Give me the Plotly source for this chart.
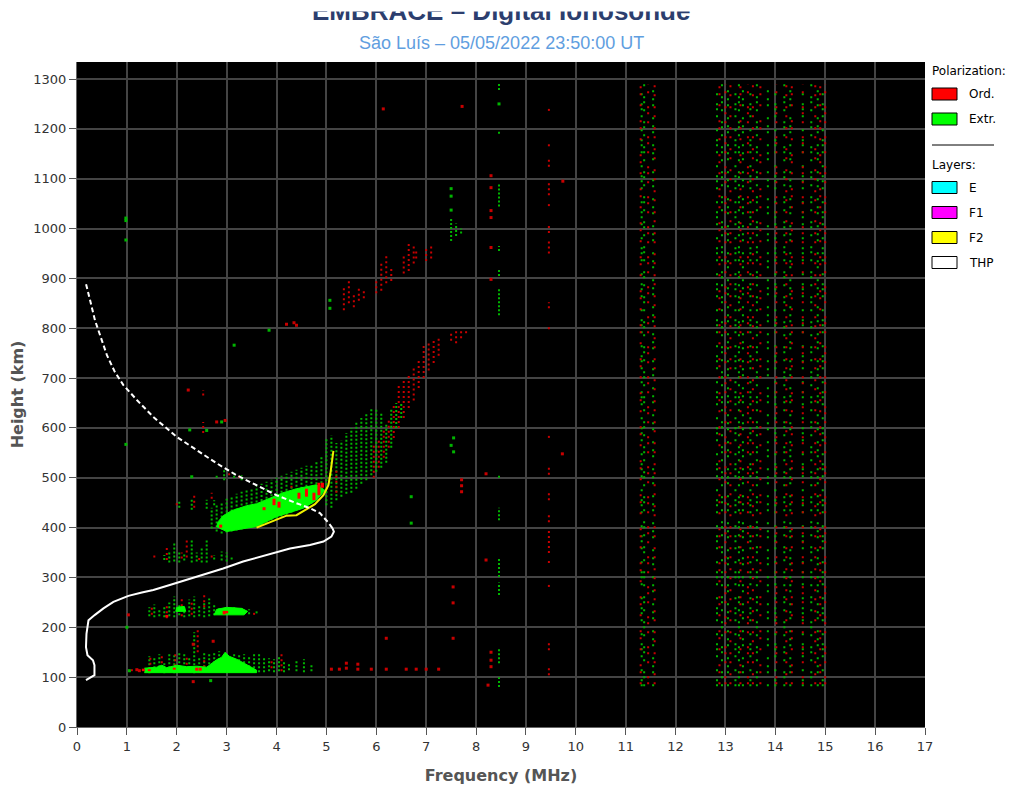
import plotly.graph_objects as go

# ---------------- data ----------------
# echo columns: frequency (MHz), bottom height (km), top height (km)

# extraordinary (green) echoes, sparse dots
e_ext_f = [1.05, 1.45, 1.55, 1.65, 1.75, 1.85, 1.95, 2.05, 2.15, 2.25, 2.35, 2.45, 2.55, 2.65, 2.75,
           2.85, 3.15, 3.25, 3.35, 3.45, 3.55, 3.65, 3.75, 3.85, 3.95, 4.05, 4.15, 4.25, 4.4, 4.55, 4.7]
e_ext_lo = [110, 108, 110, 112, 108, 110, 108, 112, 110, 110, 108, 110, 112, 110, 112,
            118, 118, 116, 112, 112, 110, 110, 110, 112, 110, 112, 110, 114, 112, 110, 112]
e_ext_hi = [118, 142, 138, 146, 132, 150, 146, 150, 148, 140, 190, 142, 148, 146, 150,
            152, 150, 148, 146, 140, 150, 148, 140, 138, 136, 144, 132, 130, 134, 136, 128]

es_ext_f = [1.45, 1.55, 1.65, 1.75, 1.85, 1.95, 2.05, 2.15, 2.25, 2.35, 2.45, 2.55, 2.65, 2.75,
            2.85, 3.0, 3.15, 3.3, 3.45, 3.6]
es_ext_lo = [222, 220, 222, 220, 222, 220, 224, 220, 222, 220, 222, 220, 222, 224, 226, 230, 228, 226, 226, 228]
es_ext_hi = [240, 246, 236, 244, 250, 262, 248, 244, 256, 262, 246, 252, 258, 246, 240, 236, 240, 242, 236, 232]

e2_ext_f = [1.75, 1.85, 1.95, 2.05, 2.15, 2.3, 2.4, 2.5, 2.6, 2.75, 2.9, 3.0, 3.1,
            2.05, 2.3, 2.6, 2.75, 2.8, 2.95, 3.15, 3.3]
e2_ext_lo = [335, 330, 332, 330, 334, 330, 332, 330, 330, 336, 334, 332, 336,
             440, 436, 438, 445, 500, 495, 500, 495]
e2_ext_hi = [345, 350, 368, 352, 346, 378, 350, 360, 376, 345, 352, 350, 342,
             452, 460, 456, 455, 508, 515, 510, 505]

f_ext_f = [2.7, 2.8, 2.9, 3.0, 3.1, 3.2, 3.3, 3.4, 3.5, 3.6, 3.7, 3.8, 3.9, 4.0, 4.1, 4.2, 4.3, 4.4,
           4.5, 4.6, 4.7, 4.8, 4.9, 5.0, 5.1, 5.2, 5.3, 5.4, 5.5, 5.6, 5.7, 5.8, 5.9, 6.0, 6.1, 6.2,
           6.3, 6.4, 6.5, 7.5, 7.6, 7.7]
f_ext_lo = [398, 392, 388, 390, 392, 394, 396, 398, 400, 402, 405, 410, 415, 418, 422, 426, 430, 434,
            438, 442, 448, 455, 465, 445, 440, 455, 462, 468, 470, 478, 488, 495, 505, 512, 520, 530,
            560, 600, 620, 975, 985, 990]
f_ext_hi = [440, 448, 452, 458, 462, 468, 472, 476, 480, 484, 488, 492, 496, 500, 504, 508, 512, 516,
            520, 524, 528, 535, 545, 580, 585, 570, 575, 590, 600, 612, 620, 628, 640, 640, 630, 610,
            640, 650, 650, 1020, 1010, 1000]

col_ext_f = [8.46, 8.46, 8.46, 8.46, 8.46, 8.46, 8.46, 8.46, 8.46, 8.46, 8.46, 8.46]
col_ext_lo = [1278, 1190, 1044, 955, 905, 826, 500, 415, 301, 265, 128, 80]
col_ext_hi = [1290, 1198, 1091, 965, 920, 878, 506, 440, 341, 290, 160, 100]

# ordinary (red) echoes, sparse dots
e_ord_f = [1.1, 1.47, 1.7, 1.97, 2.2, 2.42, 2.55, 3.9, 4.1,
           1.5, 1.8, 2.1, 2.3, 2.55, 3.55,
           1.55, 1.8, 2.1, 2.2, 2.45, 2.7, 2.0, 2.35, 2.7, 3.05, 3.25]
e_ord_lo = [112, 125, 118, 122, 125, 150, 120, 118, 112,
            225, 218, 222, 225, 240, 225,
            340, 335, 338, 340, 335, 340, 445, 440, 458, 505, 500]
e_ord_hi = [118, 145, 148, 150, 140, 195, 140, 135, 150,
            240, 245, 258, 250, 265, 232,
            345, 360, 350, 380, 345, 350, 455, 465, 470, 512, 508]

f_ord_f = [2.53, 2.53, 3.05, 3.3, 3.6, 4.2, 4.3, 5.2, 5.95, 6.05, 6.15, 6.25, 6.35, 6.45, 6.55, 6.65,
           6.75, 6.85, 6.95, 7.05, 7.15, 7.25, 7.5, 7.6, 7.7, 7.8]
f_ord_lo = [590, 665, 405, 410, 420, 440, 480, 470, 500, 520, 540, 560, 580, 600, 620, 640,
            655, 680, 700, 715, 730, 745, 775, 770, 780, 790]
f_ord_hi = [612, 676, 420, 425, 440, 470, 490, 520, 565, 580, 600, 620, 650, 690, 700, 705,
            720, 740, 765, 770, 775, 780, 795, 800, 800, 798]

hop_ord_f = [5.35, 5.45, 5.55, 5.65, 5.75, 6.0, 6.1, 6.2, 6.3, 6.55, 6.65, 6.75, 6.8, 7.0, 7.1]
hop_ord_lo = [836, 850, 842, 855, 860, 870, 875, 890, 895, 910, 915, 930, 940, 935, 940]
hop_ord_hi = [880, 895, 870, 885, 875, 900, 930, 945, 925, 950, 975, 965, 955, 960, 965]

col_ord_f = [9.46] * 18
col_ord_lo = [1236, 1165, 1124, 1067, 1045, 991, 950, 840, 798, 580, 506, 455, 411, 349, 329, 281, 154, 104]
col_ord_hi = [1245, 1175, 1142, 1091, 1052, 1005, 975, 852, 805, 588, 522, 471, 425, 399, 335, 289, 174, 120]

# strong echoes (solid areas)
e_dense_f = [1.35, 3.6, 3.6, 3.5, 3.35, 3.2, 3.05, 2.97, 2.9, 2.8, 2.7, 2.6, 2.4, 2.2, 2.0, 1.8, 1.7, 1.6, 1.35]
e_dense_h = [109, 109, 114, 120, 128, 136, 142, 150, 140, 135, 128, 120, 122, 121, 124, 119, 124, 120, 118]
es_dense_f = [2.75, 3.35, 3.42, 3.3, 3.0, 2.8, 2.75, None, 1.98, 2.18, 2.15, 2.0, 1.98]
es_dense_h = [225, 225, 232, 238, 240, 236, 225, None, 232, 232, 242, 240, 232]
f_dense_f = [2.8, 3.0, 3.4, 3.6, 4.0, 4.54, 4.8, 4.97, 4.8, 4.4, 4.13, 3.8, 3.6, 3.4, 3.1, 2.93, 2.83, 2.8]
f_dense_h = [402, 392, 399, 402, 422, 439, 455, 475, 486, 478, 470, 457, 448, 444, 434, 424, 412, 402]

ord_strong_f = [1.33, 1.45, 1.95, 2.4, 2.47, 2.95, 3.0, 1.8, 2.88, 3.75, 3.95, 4.05, 4.45, 4.6, 4.75, 4.85, 4.92]
ord_strong_lo = [112, 112, 115, 113, 113, 226, 228, 220, 400, 435, 445, 440, 458, 462, 455, 465, 480]
ord_strong_hi = [117, 116, 119, 119, 119, 233, 233, 225, 406, 441, 458, 452, 470, 478, 470, 490, 490]

# single returns
ext_dot_f = [0.98, 0.98, 0.98, 0.98, 1.0, 3.15, 3.85, 7.5, 7.5, 7.5, 5.07, 5.07, 6.7, 6.7, 7.5, 7.55,
             7.55, 2.3, 2.26, 2.6, 2.9, 2.68, 1.05, 8.46]
ext_dot_h = [1021, 1016, 977, 567, 200, 766, 796, 1080, 1065, 1037, 840, 856, 462, 409, 565, 580,
             552, 502, 596, 595, 612, 93, 113, 1250]
ord_dot_f = [6.14, 7.72, 8.3, 8.3, 8.3, 8.3, 8.3, 8.3, 9.74, 9.73, 7.71, 7.71, 7.71, 7.54, 7.54, 7.54,
             8.2, 8.2, 8.24, 8.3, 8.3, 8.3, 6.2, 5.1, 5.26, 5.4, 5.4, 5.63, 5.63, 5.9, 6.2, 6.6, 6.8,
             7.0, 7.25, 4.2, 4.35, 4.4, 2.23, 2.8, 2.97, 1.03, 1.2, 1.25, 2.33, 2.33, 2.73]
ord_dot_h = [1240, 1245, 1106, 1082, 1036, 1022, 962, 898, 1095, 548, 472, 484, 496, 281, 249, 178,
             508, 335, 84, 150, 134, 121, 178, 116, 116, 118, 128, 116, 126, 116, 116, 116, 116,
             116, 116, 808, 811, 806, 676, 612, 615, 225, 115, 113, 91, 166, 172]

# interference bands (full height columns)
noise_ext_f = [11.32, 11.37, 11.55, 12.83, 12.93, 13.05, 13.2, 13.27, 13.35, 13.5, 13.63, 13.85,
               14.0, 14.18, 14.3, 14.55, 14.72, 14.85, 14.95]
noise_ord_f = [11.3, 11.45, 11.58, 12.88, 13.0, 13.1, 13.3, 13.45, 13.55, 13.7, 14.02, 14.22,
               14.33, 14.55, 14.8, 14.9, 15.0]
noise_lo = 82
noise_hi = 1290

# scaled profiles
thp_f = [0.18, 0.35, 0.35, 0.32, 0.21, 0.18, 0.19, 0.23, 0.36, 0.53, 0.73, 1.03, 1.3, 1.53, 1.86, 2.2,
         2.53, 2.93, 3.33, 3.87, 4.27, 4.67, 4.94, 5.1, 5.15, 5.12]
thp_h = [94, 104, 124, 134, 144, 160, 187, 214, 225, 238, 251, 263, 270, 275, 285, 295,
         305, 318, 332, 347, 358, 365, 372, 382, 392, 399]
thp_ext_f = [5.12, 5.04, 4.87, 4.67, 4.4, 4.0, 3.6, 3.2, 2.8, 2.4, 2.0, 1.53, 1.2, 0.93, 0.76, 0.6,
             0.46, 0.36, 0.26, 0.18]
thp_ext_h = [399, 410, 429, 439, 449, 465, 485, 505, 529, 556, 582, 622, 656, 686, 712, 746,
             786, 816, 857, 889]
f2_f = [3.6, 3.8, 4.0, 4.2, 4.4, 4.6, 4.77, 4.94, 5.04, 5.08, 5.12, 5.14]
f2_h = [400, 408, 415, 424, 425, 437, 447, 465, 485, 509, 536, 554]

legend_pol = [("Ord.", "#ff0000"), ("Extr.", "#00ff00")]
legend_layers = [("E", "#00ffff"), ("F1", "#ff00ff"), ("F2", "#ffff00"), ("THP", "#ffffff")]

# ---------------- figure ----------------
W, H = 1017, 785
L, R, T, B = 77, 925, 62, 727


def px(x):
    return (x - L) / (R - L)


def py(y):
    return (B - y) / (B - T)


def strips(f, lo, hi):
    xs, ys = [], []
    for a, b, c in zip(f, lo, hi):
        xs += [a, a, None]
        ys += [b, c, None]
    return xs, ys


fig = go.Figure()


def add_lines(xs, ys, color, width, dash="solid"):
    fig.add_trace(go.Scatter(x=xs, y=ys, mode="lines", hoverinfo="skip", showlegend=False,
                             line=dict(color=color, width=width, dash=dash)))


def note(x, y, text, size=12, color="#000000", family="DejaVu Sans", xanchor="left", yanchor="middle", **kw):
    return dict(x=px(x), y=py(y), xref="paper", yref="paper", text=text, showarrow=False,
                xanchor=xanchor, yanchor=yanchor, font=dict(family=family, size=size, color=color), **kw)


# interference columns
dash_g = ["2px,3px,2px,8px,2px,12px,2px,5px", "2px,6px,2px,3px,2px,10px", "2px,11px,2px,4px,2px,6px"]
dash_r = ["2px,9px,2px,5px,2px,14px", "2px,4px,2px,13px,2px,7px", "2px,7px,2px,10px"]
for k in range(3):
    sel = noise_ext_f[k::3]
    xs, ys = strips(sel, [noise_lo] * len(sel), [noise_hi] * len(sel))
    add_lines(xs, ys, "#00b400", 2, dash_g[k])
for k in range(3):
    sel = noise_ord_f[k::3]
    xs, ys = strips(sel, [noise_lo + 4] * len(sel), [noise_hi] * len(sel))
    add_lines(xs, ys, "#c80000", 2, dash_r[k])

# sparse echoes
for f, lo, hi in [(e_ext_f, e_ext_lo, e_ext_hi), (es_ext_f, es_ext_lo, es_ext_hi),
                  (e2_ext_f, e2_ext_lo, e2_ext_hi), (f_ext_f, f_ext_lo, f_ext_hi),
                  (col_ext_f, col_ext_lo, col_ext_hi)]:
    xs, ys = strips(f, lo, hi)
    add_lines(xs, ys, "#00b400", 2, "2px,2px")
for f, lo, hi in [(e_ord_f, e_ord_lo, e_ord_hi), (f_ord_f, f_ord_lo, f_ord_hi),
                  (hop_ord_f, hop_ord_lo, hop_ord_hi), (col_ord_f, col_ord_lo, col_ord_hi)]:
    xs, ys = strips(f, lo, hi)
    add_lines(xs, ys, "#c80000", 2, "2px,3px")

fig.add_trace(go.Scatter(x=ext_dot_f, y=ext_dot_h, mode="markers", hoverinfo="skip", showlegend=False,
                         marker=dict(symbol="square", size=3, color="#00b400", line=dict(width=0))))
fig.add_trace(go.Scatter(x=ord_dot_f, y=ord_dot_h, mode="markers", hoverinfo="skip", showlegend=False,
                         marker=dict(symbol="square", size=3, color="#c80000", line=dict(width=0))))

# strong echoes
for f, h in [(e_dense_f, e_dense_h), (es_dense_f, es_dense_h), (f_dense_f, f_dense_h)]:
    fig.add_trace(go.Scatter(x=f, y=h, mode="lines", fill="toself", fillcolor="#00ff00",
                             line=dict(color="#00ff00", width=1), hoverinfo="skip", showlegend=False))
xs, ys = strips(ord_strong_f, ord_strong_lo, ord_strong_hi)
add_lines(xs, ys, "#ff0000", 3)

# profiles
add_lines(f2_f, f2_h, "#f0f000", 2)
add_lines(thp_f, thp_h, "#ffffff", 2)
add_lines(thp_ext_f, thp_ext_h, "#ffffff", 2, "5px,3px")

# legend drawn at the right of the plot
shapes = []
annotations = [note(930, 71, "Polarization:"), note(930, 165, "Layers:")]
rows = [(94 + 25 * i, name, col) for i, (name, col) in enumerate(legend_pol)]
rows += [(187.5 + 25 * i, name, col) for i, (name, col) in enumerate(legend_layers)]
for yc, name, col in rows:
    shapes.append(dict(type="rect", xref="paper", yref="paper", x0=px(932), x1=px(957),
                       y0=py(yc + 6), y1=py(yc - 6), fillcolor=col, line=dict(color="#000000", width=1)))
    annotations.append(note(967, yc, name))
shapes.append(dict(type="line", xref="paper", yref="paper", x0=px(932), x1=px(994),
                   y0=py(145), y1=py(145), line=dict(color="#000000", width=1)))

# titles (the top of the main title is hidden in the original page)
annotations.append(note(501, 28, "<b>EMBRACE – Digital Ionosonde</b>", size=26, color="#2c3e6e",
                        family="Liberation Sans", xanchor="center", yanchor="bottom"))
annotations.append(note(501, 0, " ", size=6, xanchor="center", yanchor="top",
                        width=460, height=10, bgcolor="#ffffff", borderpad=0))
annotations.append(note(501, 43, "São Luís – 05/05/2022 23:50:00 UT", size=18, color="#5f9ee0",
                        family="Liberation Sans", xanchor="center"))

axis_common = dict(showgrid=True, gridcolor="#444444", gridwidth=1.5, zeroline=False,
                   showline=True, linecolor="#666666", linewidth=1, mirror=False, automargin=False,
                   ticks="outside", ticklen=7, tickcolor="#555555", tickwidth=1,
                   tickfont=dict(family="DejaVu Sans", size=13, color="#333333"))

fig.update_layout(
    width=W, height=H,
    margin=dict(l=L, r=W - R, t=T, b=H - B, pad=0),
    paper_bgcolor="#ffffff", plot_bgcolor="#000000",
    shapes=shapes, annotations=annotations,
    xaxis=dict(range=[0, 17], tickmode="linear", tick0=0, dtick=1,
               title=dict(text="<b>Frequency (MHz)</b>", standoff=22,
                          font=dict(family="DejaVu Sans", size=16, color="#555555")),
               **axis_common),
    yaxis=dict(range=[0, (B - T) / ((B - 79) / 1300)], tickmode="linear", tick0=0, dtick=100,
               title=dict(text="<b>Height (km)</b>", standoff=5,
                          font=dict(family="DejaVu Sans", size=16, color="#555555")),
               **axis_common),
)

fig.write_html("out.html", config={"displayModeBar": False},
               post_script="document.body.style.margin='0';")
